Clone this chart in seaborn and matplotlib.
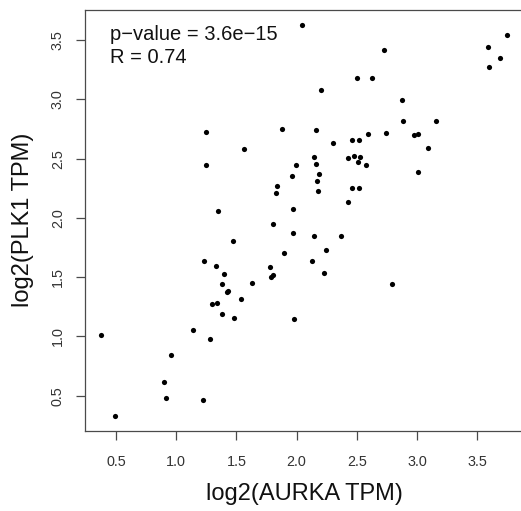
import matplotlib
matplotlib.use("Agg")
import matplotlib.pyplot as plt
import seaborn as sns
import pandas as pd

aurka = [1.248, 1.876, 1.566, 1.245, 1.835, 1.829, 1.347, 1.802, 1.959, 2.047,
         3.750, 3.590, 3.689, 3.596, 2.726, 2.504, 2.629, 2.200, 2.875, 2.884,
         3.160, 2.159, 2.745, 2.596, 2.973, 3.006, 2.460, 2.521, 2.300, 3.094,
         2.145, 2.479, 2.527, 2.427, 2.507, 2.579, 2.161, 1.998, 2.189, 3.011,
         2.172, 2.178, 2.460, 2.518, 2.424, 1.968, 1.474, 1.893, 1.231, 1.328,
         1.777, 1.395, 1.802, 1.790, 1.378, 1.630, 1.428, 1.419, 1.541, 1.295,
         1.339, 1.383, 1.478, 1.137, 0.376, 1.281, 0.954, 0.896, 0.915, 1.220,
         0.494, 1.968, 2.142, 2.366, 2.244, 2.128, 2.230, 2.792, 1.978]
plk1 = [2.722, 2.747, 2.581, 2.446, 2.271, 2.213, 2.061, 1.951, 2.356, 3.624,
        3.545, 3.444, 3.351, 3.270, 3.413, 3.180, 3.177, 3.081, 2.997, 2.820,
        2.820, 2.741, 2.718, 2.707, 2.699, 2.710, 2.657, 2.657, 2.632, 2.592,
        2.516, 2.519, 2.511, 2.503, 2.469, 2.449, 2.457, 2.444, 2.368, 2.390,
        2.311, 2.229, 2.255, 2.255, 2.134, 2.075, 1.805, 1.707, 1.634, 1.592,
        1.589, 1.527, 1.516, 1.499, 1.445, 1.451, 1.384, 1.375, 1.314, 1.277,
        1.283, 1.190, 1.153, 1.052, 1.015, 0.979, 0.841, 0.614, 0.484, 0.465,
        0.332, 1.873, 1.850, 1.847, 1.727, 1.634, 1.538, 1.445, 1.145]
x_ticks = [0.5, 1.0, 1.5, 2.0, 2.5, 3.0, 3.5]
y_ticks = [0.5, 1.0, 1.5, 2.0, 2.5, 3.0, 3.5]
x_label = "log2(AURKA TPM)"
y_label = "log2(PLK1 TPM)"
stat_lines = ["p\u2212value = 3.6e\u221215", "R = 0.74"]

sns.set_style("white")
plt.rcParams['font.family'] = ['Liberation Sans', 'DejaVu Sans']

df = pd.DataFrame({"AURKA": aurka, "PLK1": plk1})

W, H = 521, 511
fig = plt.figure(figsize=(W / 100, H / 100), dpi=100)
left, right, top, bottom = 85, 523.6, 9.6, 431
ax = fig.add_axes([left / W, 1 - bottom / H, (right - left) / W, (bottom - top) / H])

sns.scatterplot(data=df, x="AURKA", y="PLK1", ax=ax, color="black", s=14,
                linewidth=0, legend=False)

ax.set_xlim(0.2425, 3.885)
ax.set_ylim(0.2032, 3.756)
ax.set_xticks(x_ticks)
ax.set_yticks(y_ticks)
ax.set_xticklabels([f"{v:.1f}" for v in x_ticks])
ax.set_yticklabels([f"{v:.1f}" for v in y_ticks])

spine_col = "#4a4a4a"
for sp in ax.spines.values():
    sp.set_color(spine_col)
    sp.set_linewidth(0.9)
    sp.set_visible(True)

ax.tick_params(axis='both', which='major', direction='out', length=6.5, width=0.9,
               color=spine_col, labelsize=10.4, labelcolor="#333333", pad=11,
               bottom=True, left=True)
ax.tick_params(axis='y', labelrotation=90, pad=8)
for lab in ax.get_yticklabels():
    lab.set_va('center')

ax.set_xlabel(x_label, fontsize=17, color="#111111", labelpad=10)
ax.set_ylabel(y_label, fontsize=17, color="#111111", labelpad=12)

fig.text(110 / W, 1 - 40 / H, stat_lines[0], fontsize=14.5, color="#111111",
         va='baseline', ha='left')
fig.text(110 / W, 1 - 63 / H, stat_lines[1], fontsize=14.5, color="#111111",
         va='baseline', ha='left')

fig.savefig("out.png", dpi=100)
